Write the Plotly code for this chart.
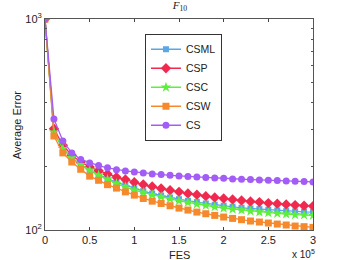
import plotly.graph_objects as go

fes = [i * 10000 for i in range(31)]

cs = [1000, 336, 264, 232, 216, 208, 202, 197, 193,
      190.5, 188.5, 186.4, 184.4, 183.0, 181.7, 180.4, 179.1, 178.5, 177.2, 176.6,
      175.9, 174.6, 174.0, 173.4, 172.7, 172.1, 171.5, 170.9, 170.2, 169.6, 169.0]
csp = [1000, 302, 252, 226, 210, 199, 191, 184, 178,
       173.4, 168.4, 164.2, 160.7, 157.2, 154.4, 151.6, 148.9, 146.8, 144.7, 142.6,
       141.1, 139.5, 138.0, 136.5, 135.6, 134.1, 133.1, 132.2, 131.2, 130.3, 129.8]
csml = [1000, 289, 243, 220, 204, 192, 183, 175, 168,
        163.1, 157.2, 152.8, 148.9, 145.7, 142.6, 140.0, 137.5, 135.6, 133.6, 131.7,
        130.3, 128.8, 127.4, 126.5, 125.6, 124.7, 123.8, 122.9, 122.5, 122.0, 121.6]
csc = [1000, 291, 243, 220, 204, 192, 182, 174, 166,
       160.2, 154.4, 150.6, 146.8, 143.6, 140.5, 137.5, 135.1, 132.6, 130.7, 128.8,
       127.0, 125.6, 124.3, 122.9, 121.6, 120.7, 119.8, 119.0, 118.1, 117.7, 117.3]
csw = [1000, 279, 232, 210, 194, 180, 172, 164, 158,
       151.6, 146.3, 141.1, 137.0, 133.6, 130.3, 127.0, 124.3, 121.6, 119.4, 117.3,
       115.2, 113.5, 111.9, 110.3, 109.1, 107.9, 106.7, 105.6, 104.4, 103.7, 102.9]

series = [
    ("CSML", csml, "#5aa6e6", "square", 6),
    ("CSP", csp, "#f2294f", "diamond", 8),
    ("CSC", csc, "#5cf03a", "star", 8),
    ("CSW", csw, "#f5892c", "square", 7),
    ("CS", cs, "#a35cf5", "circle", 7),
]

fig = go.Figure()
for name, vals, color, sym, size in series:
    fig.add_trace(go.Scatter(
        x=fes, y=vals, name=name, mode="lines+markers",
        line=dict(color=color, width=1.3),
        marker=dict(symbol=sym, size=size, color=color, line=dict(width=0)),
    ))

xt = [0, 50000, 100000, 150000, 200000, 250000, 300000]
xtl = ["0", "0.5", "1", "1.5", "2", "2.5", "3"]

fig.update_layout(
    width=346, height=260,
    margin=dict(l=45, r=33, t=19, b=30, autoexpand=False),
    paper_bgcolor="white", plot_bgcolor="white",
    font=dict(family="Liberation Sans, Arial", size=11, color="#222"),
    title=dict(text="<i>F</i><sub>10</sub>", x=0.52, xanchor="center", y=0.995, yanchor="top",
               font=dict(family="Liberation Serif, Times New Roman", size=11, color="#222")),
    legend=dict(x=0.373, y=0.93, xanchor="left", yanchor="top",
                bordercolor="#333", borderwidth=1, bgcolor="white",
                font=dict(size=10.5), itemwidth=30, tracegroupgap=0),
    showlegend=True,
)
fig.update_xaxes(
    range=[0, 300000], tickvals=xt, ticktext=xtl, ticks="inside", ticklen=3,
    showline=True, linecolor="#555", linewidth=1, mirror="ticks", showgrid=False,
    zeroline=False, automargin=False, tickfont=dict(size=11),
)
fig.update_yaxes(
    type="log", range=[2, 3], tickvals=[100, 1000],
    ticktext=["10<sup>2</sup>", "10<sup>3</sup>"], ticks="inside", ticklen=3,
    minor=dict(tickvals=[200, 300, 400, 500, 600, 700, 800, 900], ticks="inside",
               ticklen=2, tickcolor="#555", showgrid=False),
    showline=True, linecolor="#555", linewidth=1, mirror="ticks", showgrid=False,
    zeroline=False, automargin=False, tickfont=dict(size=11),
)
fig.add_annotation(text="FES", xref="paper", yref="paper", x=0.5, y=-0.118,
                   xanchor="center", yanchor="middle", showarrow=False,
                   font=dict(size=11, color="#222"))
fig.add_annotation(text="Average Error", xref="paper", yref="paper", x=-0.105, y=0.5,
                   xanchor="center", yanchor="middle", showarrow=False, textangle=-90,
                   font=dict(size=11, color="#222"))
fig.add_annotation(text="x 10<sup>5</sup>", xref="paper", yref="paper", x=0.965, y=-0.152,
                   xanchor="center", yanchor="bottom", showarrow=False,
                   font=dict(size=10, color="#222"))

fig.write_html("out.html", config={"displayModeBar": False},
               post_script="document.body.style.margin='0';document.body.style.overflow='hidden';")
